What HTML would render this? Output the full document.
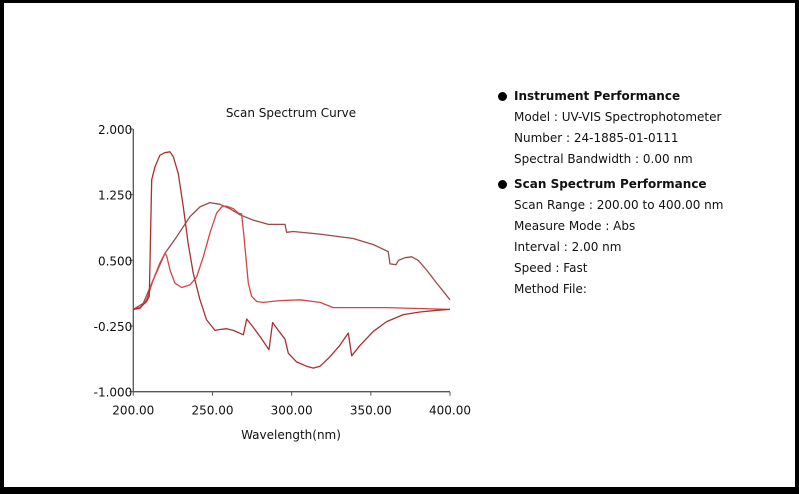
<!DOCTYPE html>
<html><head><meta charset="utf-8"><style>
body{margin:0;background:#fff;}
#frame{position:absolute;left:0;top:0;width:799px;height:494px;box-sizing:border-box;border-style:solid;border-color:#000;border-width:3px 4px 7px 4px;background:#fff;}
svg text{font-family:"DejaVu Sans","Liberation Sans",sans-serif;fill:#111;}
.info{position:absolute;font-family:"DejaVu Sans","Liberation Sans",sans-serif;font-size:12px;color:#111;white-space:nowrap;}
.b{font-weight:bold;}
.dot{position:absolute;width:9px;height:9px;border-radius:50%;background:#000;}
</style></head><body>
<div id="frame"></div>
<svg id="chart" width="799" height="494" style="position:absolute;left:0;top:0"></svg>
<div class="dot" style="left:498px;top:92px"></div>
<div class="info b" style="left:514px;top:89px">Instrument Performance</div>
<div class="info" style="left:514px;top:110px">Model : UV-VIS Spectrophotometer</div>
<div class="info" style="left:514px;top:131px">Number : 24-1885-01-0111</div>
<div class="info" style="left:514px;top:152px">Spectral Bandwidth : 0.00 nm</div>
<div class="dot" style="left:498px;top:180px"></div>
<div class="info b" style="left:514px;top:177px">Scan Spectrum Performance</div>
<div class="info" style="left:514px;top:198px">Scan Range : 200.00 to 400.00 nm</div>
<div class="info" style="left:514px;top:219px">Measure Mode : Abs</div>
<div class="info" style="left:514px;top:240px">Interval : 2.00 nm</div>
<div class="info" style="left:514px;top:261px">Speed : Fast</div>
<div class="info" style="left:514px;top:282px">Method File:</div>
<script>
const xTicks=[200,250,300,350,400];
const yTicks=[2.0,1.25,0.5,-0.25,-1.0];
const waveA=[200,204.2,208.4,210.1,211.6,213.7,216.8,220,223.2,225.3,228.4,231.6,234.7,237.9,242.1,246.3,251.6,254.7,258.9,263.2,269.5,271.6,274.7,280,285.7,288,291.6,295.8,297.9,303.1,309.5,313.7,317.9,324.2,330.5,335.8,337.9,343.2,351.6,360,370.5,381,391.6,400];
const absA=[-0.06,-0.04,0.03,0.09,1.42,1.57,1.70,1.73,1.74,1.68,1.49,1.11,0.69,0.35,0.05,-0.18,-0.30,-0.29,-0.28,-0.30,-0.35,-0.17,-0.24,-0.37,-0.52,-0.21,-0.30,-0.40,-0.56,-0.66,-0.71,-0.73,-0.71,-0.60,-0.47,-0.33,-0.59,-0.47,-0.31,-0.20,-0.12,-0.09,-0.07,-0.06];
const waveB=[200,206.3,212.6,220,227.4,235.8,242.1,248.4,254.7,261,267.4,275.8,285.3,295.8,296.8,301,317.9,338.9,351.6,361,362.1,365.9,367.4,371.6,375.8,380,385.2,391.6,400];
const absB=[-0.06,0.01,0.28,0.58,0.77,1.00,1.11,1.16,1.14,1.09,1.02,0.96,0.91,0.91,0.82,0.83,0.80,0.75,0.68,0.60,0.46,0.45,0.50,0.53,0.54,0.50,0.39,0.24,0.05];
const waveC=[200,204.2,208.4,212.6,216.8,220,221.1,223.2,226.3,230.5,235.8,240,244.2,248.4,252.6,255.8,258.9,263.2,266.3,268.4,269.9,272.6,274.7,277.9,282.1,292.6,305.3,317.9,326.3,338.9,360,400];
const absC=[-0.06,-0.05,0.05,0.28,0.47,0.58,0.55,0.39,0.24,0.19,0.22,0.31,0.54,0.81,1.04,1.11,1.12,1.09,1.04,1.03,0.77,0.24,0.09,0.03,0.02,0.04,0.05,0.02,-0.04,-0.04,-0.04,-0.06];
const NS='http://www.w3.org/2000/svg';
const svg=document.getElementById('chart');
const X0=133.3,X1=450,Y0=129,Y1=391.7;
function xs(w){return X0+(w-200)/200*(X1-X0);}
function ys(v){return Y0+(2-v)/3*(Y1-Y0);}
function mk(t,a){const e=document.createElementNS(NS,t);for(const k in a)e.setAttribute(k,a[k]);svg.appendChild(e);return e;}
let e;
e=mk('text',{x:291,y:117,'font-size':12,'text-anchor':'middle'});e.textContent='Scan Spectrum Curve';


e=mk('path',{d:`M${X0},${Y0}V${Y1}H${X1}`,stroke:'#555',fill:'none','stroke-width':1.3});


yTicks.forEach(v=>{
 e=mk('line',{x1:X0-4,x2:X0,y1:ys(v),y2:ys(v),stroke:'#555'});
 
 
 e=mk('text',{x:X0-1,y:ys(v)+5,'font-size':12,'text-anchor':'end'});e.textContent=v.toFixed(3);
 
 
});
xTicks.forEach(w=>{
 e=mk('line',{x1:xs(w),x2:xs(w),y1:Y1,y2:Y1+4,stroke:'#555'});
 
 
 e=mk('text',{x:xs(w),y:Y1+23,'font-size':12,'text-anchor':'middle'});e.textContent=w.toFixed(2);
 
 
});
e=mk('text',{x:291,y:439,'font-size':12,'text-anchor':'middle'});e.textContent='Wavelength(nm)';


function series(w,a,c,name){
 const d=w.map((x,i)=>(i?'L':'M')+xs(x).toFixed(1)+','+ys(a[i]).toFixed(1)).join('');
 const p=mk('path',{d:d,stroke:c,fill:'none','stroke-width':1.3,'stroke-linejoin':'round'});
 
 
}
series(waveB,absB,'#9a4a4a','spectrum-curve-2');
series(waveC,absC,'#d44545','spectrum-curve-3');
series(waveA,absA,'#a83030','spectrum-curve-1');
</script>
</body></html>
